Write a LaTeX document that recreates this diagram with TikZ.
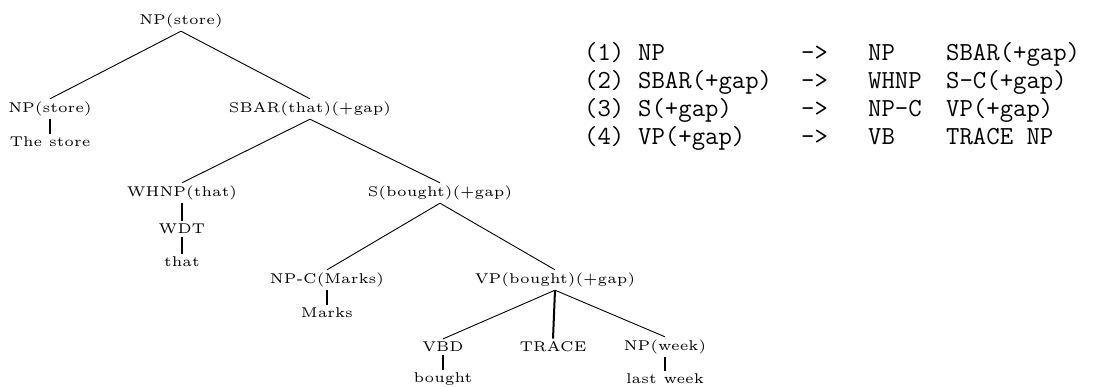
\documentclass[tikz,border=0pt]{standalone}
\usepackage{fontspec}
\usepackage{graphicx}
\begin{document}
\begin{tikzpicture}[x=1pt,y=-1pt,
  tl/.style={font=\fontsize{5}{6}\selectfont, scale=2.83, inner sep=0.9pt},
  rl/.style={font=\fontsize{26}{28}\ttfamily, anchor=base west, inner sep=0pt},
  br/.style={line width=0.9pt},
  lx/.style={line width=2pt}]
\useasboundingbox (0,0) rectangle (1094,387);
% tree
\node[tl] (n0) at (181,21) {NP(store)};
\node[tl] (n1) at (50,109) {NP(store)};
\node[tl] (w1) at (50,142) {The store};
\node[tl] (n2) at (310,109) {SBAR(that)(+gap)};
\node[tl] (n3) at (182,193) {WHNP(that)};
\node[tl] (n4) at (182,229) {WDT};
\node[tl] (w4) at (182,262) {that};
\node[tl] (n5) at (440,193) {S(bought)(+gap)};
\node[tl] (n6) at (327,280) {NP-C(Marks)};
\node[tl] (w6) at (327,313) {Marks};
\node[tl] (n7) at (555,280) {VP(bought)(+gap)};
\node[tl] (n8) at (443,347) {VBD};
\node[tl] (w8) at (443,379) {bought};
\node[tl] (n9) at (553,347) {TRACE};
\node[tl] (n10) at (665,347) {NP(week)};
\node[tl] (w10) at (665,379) {last week};
\draw[br] (n0.south) -- (n1.north);
\draw[br] (n0.south) -- (n2.north);
\draw[lx] (n1.south) -- (w1.north);
\draw[br] (n2.south) -- (n3.north);
\draw[br] (n2.south) -- (n5.north);
\draw[lx] (n3.south) -- (n4.north);
\draw[lx] (n4.south) -- (w4.north);
\draw[br] (n5.south) -- (n6.north);
\draw[br] (n5.south) -- (n7.north);
\draw[lx] (n6.south) -- (w6.north);
\draw[br] (n7.south) -- (n8.north);
\draw[lx] (n7.south) -- (n9.north);
\draw[br] (n7.south) -- (n10.north);
\draw[lx] (n8.south) -- (w8.north);
\draw[lx] (n10.south) -- (w10.north);
% rules
\foreach \i/\yy/\a/\b/\c in {1/61/NP/NP/SBAR(+gap), 2/89/SBAR(+gap)/WHNP/S-C(+gap), 3/117/S(+gap)/NP-C/VP(+gap), 4/145/VP(+gap)/VB/TRACE NP}{
  \node[rl] (r\i a) at (584,\yy) {(\i)};
  \node[rl] (r\i b) at (638,\yy) {\a};
  \node[rl] (r\i c) at (801,\yy) {->};
  \node[rl] (r\i d) at (868,\yy) {\b};
  \node[rl] (r\i e) at (946,\yy) {\c};
}
\end{tikzpicture}
\end{document}
